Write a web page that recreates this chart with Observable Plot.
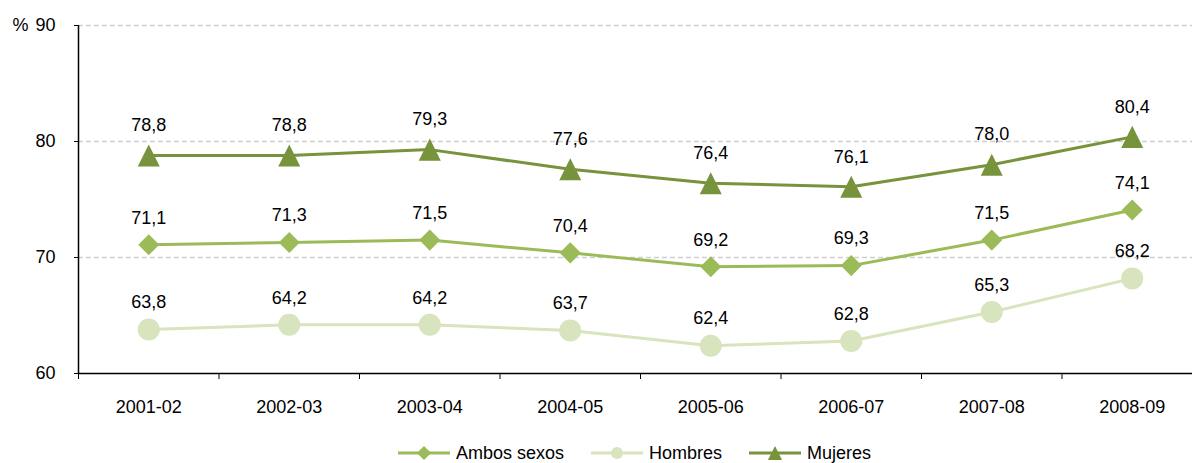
<!DOCTYPE html>
<html><head><meta charset="utf-8">
<script src="https://cdn.jsdelivr.net/npm/d3@7"></script>
<script src="https://cdn.jsdelivr.net/npm/@observablehq/plot@0.6"></script>
<style>
body{margin:0;background:#fff;font-family:"Liberation Sans",Arial,sans-serif;}
#chart svg{display:block;}
#legend{display:flex;align-items:center;height:42px;padding-left:398px;font-size:18px;color:#000;}
.item{display:flex;align-items:center;margin-right:27px;}
.item svg{margin-right:6px;display:block;}
</style></head>
<body><div id="chart"></div><div id="legend"></div>
<script>
const categories = ["2001-02","2002-03","2003-04","2004-05","2005-06","2006-07","2007-08","2008-09"];
const ambos   = [71.1, 71.3, 71.5, 70.4, 69.2, 69.3, 71.5, 74.1];
const hombres = [63.8, 64.2, 64.2, 63.7, 62.4, 62.8, 65.3, 68.2];
const mujeres = [78.8, 78.8, 79.3, 77.6, 76.4, 76.1, 78.0, 80.4];
const seriesNames = ["Ambos sexos", "Hombres", "Mujeres"];
const seriesColors = ["#9BBB59", "#D7E4BD", "#77933C"];
const yTicks = [60, 70, 80, 90];
const gridTicks = [70, 80, 90];

const diamond = {draw(ctx, size){const r = Math.sqrt(size/2); ctx.moveTo(0,-r); ctx.lineTo(r,0); ctx.lineTo(0,r); ctx.lineTo(-r,0); ctx.closePath();}};
const triangle = {draw(ctx, size){const s = Math.sqrt(size*2); ctx.moveTo(0,-s/2); ctx.lineTo(s/2,s/2); ctx.lineTo(-s/2,s/2); ctx.closePath();}};
const circle = {draw(ctx, size){const r = Math.sqrt(size/Math.PI); ctx.moveTo(r,0); ctx.arc(0,0,r,0,2*Math.PI);}};

const seriesValues = [ambos, hombres, mujeres];
const seriesSymbols = [diamond, circle, triangle];
const seriesR = [8.4, 11, 8.8];
const labelDy = [-27, -27, -30];
const fmt = v => v.toFixed(1).replace(".", ",");

const rows = s => seriesValues[s].map((v, i) => ({i, v, label: fmt(v)}));

const marks = [
  Plot.ruleY(gridTicks, {stroke: "#d0d0d0", strokeWidth: 1.5, strokeDasharray: "5,3"}),
  Plot.axisY(yTicks, {tickSize: 4, tickPadding: 19, fontSize: 18, stroke: "#000", color: "#000", label: null}),
  Plot.axisX(d3.range(-0.5, 8, 1), {tickSize: 6, tickFormat: () => "", stroke: "#000", label: null}),
  Plot.axisX(d3.range(8), {tickSize: 0, tickPadding: 27, tickFormat: i => categories[i], fontSize: 18, label: null}),
  Plot.ruleY([60], {stroke: "#000", strokeWidth: 1.5}),
  Plot.ruleX([-0.5], {y1: 60, y2: 90, stroke: "#000", strokeWidth: 1.5}),
  Plot.text(["%"], {frameAnchor: "top-left", dx: -66, fontSize: 18, textAnchor: "start", lineAnchor: "middle"})
];
[1, 0, 2].forEach(s => {
  const d = rows(s);
  marks.push(Plot.line(d, {x: "i", y: "v", stroke: seriesColors[s], strokeWidth: 3}));
  marks.push(Plot.dot(d, {x: "i", y: "v", symbol: seriesSymbols[s], r: seriesR[s], fill: seriesColors[s], stroke: "none"}));
  marks.push(Plot.text(d, {x: "i", y: "v", text: "label", dy: labelDy[s], fontSize: 18, fill: "#000"}));
});

const chart = Plot.plot({
  width: 1192, height: 432,
  marginTop: 25, marginBottom: 59, marginLeft: 78, marginRight: 0,
  style: {fontFamily: '"Liberation Sans", Arial, sans-serif', fontSize: "18px", color: "#000", background: "#fff"},
  x: {type: "linear", domain: [-0.5, 7.5], range: [78, 1202]},
  y: {domain: [60, 90]},
  marks
});
document.getElementById("chart").append(chart);

const legend = document.getElementById("legend");
seriesNames.forEach((name, s) => {
  const item = document.createElement("div"); item.className = "item";
  const sw = d3.create("svg").attr("width", 52).attr("height", 20);
  sw.append("line").attr("x1", 0).attr("x2", 52).attr("y1", 10).attr("y2", 10).attr("stroke", seriesColors[s]).attr("stroke-width", 3);
  sw.append("path").attr("transform", "translate(26,10)").attr("fill", seriesColors[s])
    .attr("d", d3.symbol().type(seriesSymbols[s]).size(s === 1 ? Math.PI*36 : 100)());
  item.append(sw.node());
  const t = document.createElement("span"); t.textContent = name; item.append(t);
  legend.append(item);
});
</script></body></html>
